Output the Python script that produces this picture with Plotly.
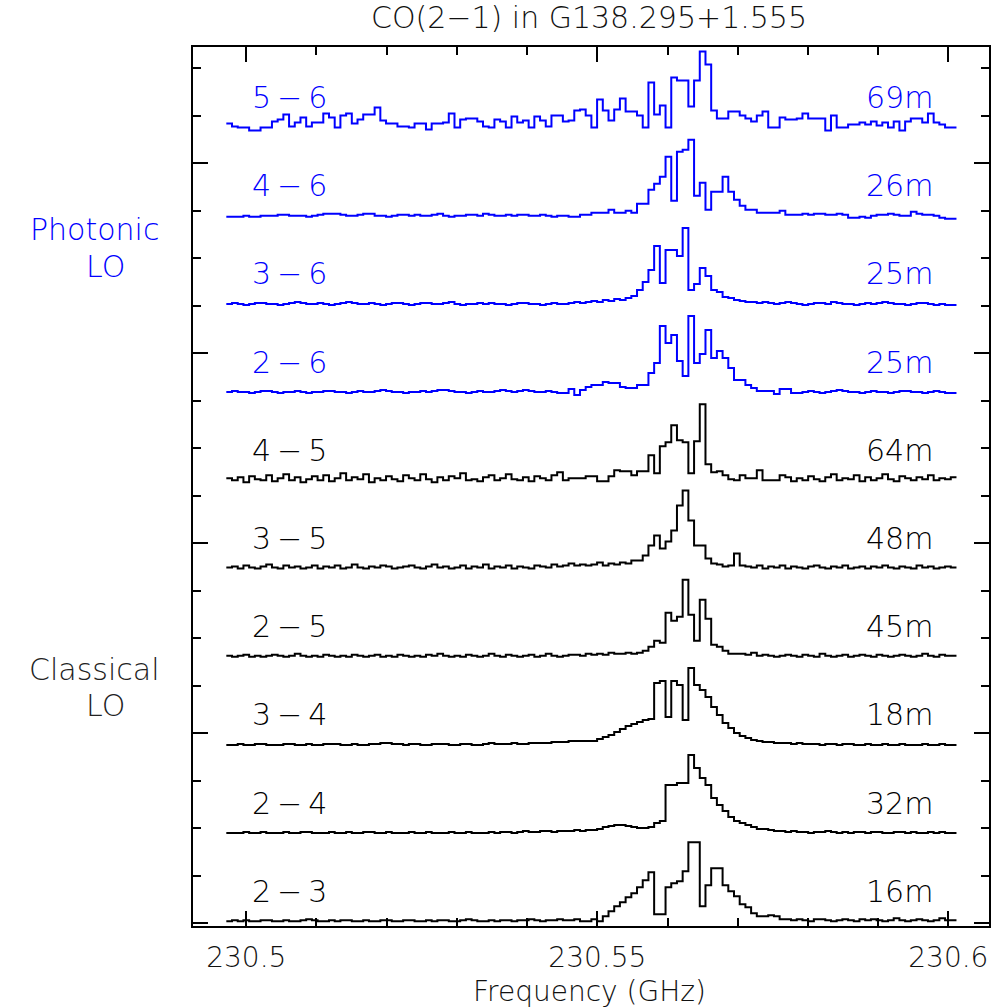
import numpy as np
import plotly.graph_objects as go

# ---------------- data ----------------
freq_start = 230.497156   # GHz, lower edge of first channel
chan_width = 0.0008125    # GHz (0.8125 MHz channels, 128 channels)

baselines = ["2-3", "2-4", "3-4", "2-5", "3-5", "4-5", "2-6", "3-6", "4-6", "5-6"]
noise_levels = ["16m", "32m", "18m", "45m", "48m", "64m", "25m", "25m", "26m", "69m"]
lo_type = ["Classical"] * 6 + ["Photonic"] * 4

spec_2_3 = [0,1,0,1,0,0,1,1,0,0,1,0,0,1,2,1,
            0,0,1,0,1,1,0,0,1,0,0,1,1,0,0,1,
            1,0,0,1,0,1,1,0,0,1,2,1,0,0,1,0,
            1,1,0,1,1,2,1,0,1,1,2,1,1,2,0,0,
            2,0,5,10,15,19,24,28,34,41,49,7,7,34,38,40,
            50,79,79,15,36,53,53,36,30,25,17,14,8,5,5,6,
            5,2,2,1,2,1,0,2,2,1,0,1,2,1,0,2,
            1,2,1,0,1,3,1,0,1,2,1,0,1,3,1,1]
spec_2_4 = [0,0,0,1,0,0,1,0,0,0,1,0,0,1,1,0,
            0,0,1,0,0,1,0,0,1,1,0,0,1,0,0,0,
            1,0,0,1,0,0,0,1,0,0,1,0,0,0,1,0,
            1,1,0,1,2,1,1,2,2,1,2,2,2,3,2,3,
            3,4,6,7,8,8,7,6,5,5,6,10,12,48,48,50,
            50,78,65,55,48,35,28,22,16,12,10,8,6,4,4,3,
            2,2,1,2,1,1,0,1,1,2,1,0,1,0,1,1,
            0,1,1,0,0,1,1,0,1,0,0,1,0,1,0,0]
spec_3_4 = [0,0,1,0,0,1,1,0,0,0,1,1,0,0,1,0,
            0,1,1,1,0,0,1,0,0,1,1,2,2,1,1,0,
            1,1,0,0,1,1,1,0,0,1,1,0,0,1,2,1,
            1,1,2,1,1,2,2,2,2,3,3,3,4,4,4,4,
            4,6,8,10,13,16,19,21,23,25,26,62,64,28,64,60,
            25,77,60,55,48,38,30,22,17,12,9,7,5,4,3,3,
            2,2,2,1,2,1,1,1,0,1,1,0,1,1,0,0,
            1,0,0,1,0,0,1,0,0,0,1,0,0,1,0,0]
spec_2_5 = [1,0,1,2,0,1,0,1,2,1,0,1,3,1,0,1,
            0,2,1,0,1,0,2,1,0,1,2,0,1,0,2,1,
            0,1,0,2,1,3,1,0,1,0,2,1,0,1,3,1,
            0,2,1,0,1,2,0,1,3,1,0,1,2,2,1,3,
            2,3,2,4,3,3,4,3,4,6,10,16,14,44,36,40,
            77,42,16,57,38,12,10,6,3,3,3,2,4,1,2,1,
            0,1,2,1,0,2,1,0,3,1,0,1,2,0,1,2,
            1,0,2,1,0,1,2,1,0,1,3,1,0,2,1,1]
spec_3_5 = [1,2,0,3,1,0,2,4,1,0,3,1,2,0,1,3,
            0,2,1,3,0,1,4,1,0,2,1,3,2,0,1,2,
            3,1,0,2,4,1,2,0,1,3,0,2,1,4,0,2,
            1,3,0,2,1,0,3,2,1,4,2,3,5,3,4,3,
            4,6,3,5,4,6,5,8,8,13,23,33,20,27,38,63,
            78,48,23,23,10,5,4,2,3,15,3,2,1,3,0,2,
            1,3,0,2,1,0,2,3,1,0,2,1,3,0,1,2,
            0,2,1,3,1,0,2,1,0,3,1,2,0,1,2,1]
spec_4_5 = [2,0,3,-2,4,1,0,5,-1,2,6,0,3,-2,1,4,
            0,5,-1,2,7,0,3,1,6,-2,2,0,4,1,-1,5,
            2,0,6,1,-2,3,0,4,2,7,0,1,-1,3,5,0,
            2,6,1,0,3,-1,4,2,0,5,8,0,2,2,2,4,
            4,-1,-1,4,10,9,9,5,9,9,25,7,34,38,55,40,
            38,7,39,76,16,8,9,5,1,0,5,2,2,10,0,0,
            0,5,3,-1,2,0,4,1,-1,3,6,0,2,1,5,-1,
            3,0,2,6,1,-1,4,2,0,3,1,5,0,2,1,3]
spec_2_6 = [0,1,0,0,-1,0,1,1,0,-1,0,0,1,0,-1,0,
            0,1,1,0,0,-1,0,1,0,0,1,2,1,0,0,-1,
            0,0,1,0,1,2,2,1,0,0,-1,0,1,0,0,1,
            2,1,0,1,2,1,0,0,1,0,-1,-1,3,-3,2,5,
            7,7,10,9,9,5,4,4,7,7,19,29,66,49,57,31,
            16,76,29,38,62,34,41,34,24,12,12,7,4,1,1,1,
            -2,3,3,-1,-1,0,1,0,-1,0,1,2,1,0,0,-1,
            0,1,0,0,-1,0,1,1,0,0,-1,0,1,0,-1,-1]
spec_3_6 = [0,1,0,-1,0,1,1,0,0,-1,0,1,2,1,0,0,
            1,0,-1,0,1,2,1,0,0,1,0,-1,0,1,1,0,
            -1,0,1,1,0,0,1,2,0,-1,0,0,1,0,1,0,
            0,-1,0,1,1,0,0,-1,0,1,0,0,1,2,1,2,
            3,2,4,3,5,4,6,8,14,22,34,58,21,54,54,48,
            76,14,20,36,28,14,12,7,6,4,3,2,2,1,2,1,
            0,1,2,1,0,-1,0,1,1,0,2,1,0,0,-1,0,
            1,0,1,2,1,0,0,-1,0,1,1,0,-1,0,-1,-1]
spec_4_6 = [-1,-1,-1,0,-1,-1,0,0,0,1,1,0,0,0,-1,0,
            1,2,2,2,1,0,0,1,2,2,0,0,-1,0,1,1,
            0,1,0,0,1,2,0,-1,0,0,1,1,0,2,1,0,
            0,1,0,1,1,0,0,1,0,-1,0,0,-1,-1,1,1,
            3,3,3,6,3,3,5,3,12,12,26,32,39,59,15,64,
            66,76,20,33,6,24,24,39,24,16,10,6,6,3,3,3,
            3,5,1,1,1,2,1,2,2,1,1,2,1,-2,-2,-1,
            -2,0,1,1,2,1,0,0,4,2,1,1,0,-2,-3,-3]
spec_5_6 = [4,1,0,0,-3,-3,0,0,6,8,13,1,5,10,1,5,
            5,14,10,0,12,14,4,8,13,13,20,7,4,4,1,1,
            0,4,4,-2,4,4,5,14,0,8,9,9,6,1,0,8,
            6,0,11,5,7,0,11,7,1,12,12,6,7,17,18,12,
            0,28,17,7,18,29,16,16,12,0,45,13,22,0,50,47,
            47,21,47,76,63,17,9,9,16,16,12,9,6,12,16,0,
            0,10,8,8,9,14,9,9,9,-3,12,0,0,3,3,5,
            3,6,2,5,0,6,-3,6,9,9,5,14,5,3,0,0]

spectra = [spec_2_3, spec_2_4, spec_3_4, spec_2_5, spec_3_5,
           spec_4_5, spec_2_6, spec_3_6, spec_4_6, spec_5_6]
offsets = [2.0, 90.2, 178.4, 266.6, 354.8, 443.0, 531.2, 619.4, 707.6, 795.8]

x_tickvals = [230.5, 230.55, 230.6]
x_ticktext = ["230.5", "230.55", "230.6"]

# ---------------- figure ----------------
FONT = "DejaVu Sans"
colors = {"Classical": "#000000", "Photonic": "#0000ff"}

n_chan = len(spec_2_3)
edges = freq_start + chan_width * np.arange(n_chan + 1)

fig = go.Figure()
for name, spec, off, lo in zip(baselines, spectra, offsets, lo_type):
    y = np.array(spec, dtype=float) + off
    fig.add_trace(go.Scatter(
        x=edges, y=np.append(y, y[-1]), mode="lines",
        line=dict(shape="hv", color=colors[lo], width=2),
        name=name, showlegend=False, hoverinfo="skip"))

x_left = 230.5005
x_right = 230.5981
for name, noise, off, lo in zip(baselines, noise_levels, offsets, lo_type):
    c = colors[lo]
    fig.add_annotation(x=x_left, y=off + 30, xref="x", yref="y",
                       text=name.replace("-", "\u2009\u2212\u2009"),
                       showarrow=False, xanchor="left", yanchor="middle",
                       font=dict(family=FONT, size=30, color=c, weight=200))
    fig.add_annotation(x=x_right, y=off + 30, xref="x", yref="y", text=noise,
                       showarrow=False, xanchor="right", yanchor="middle",
                       font=dict(family=FONT, size=30, color=c, weight=200))

side = [("Photonic", -0.124, 694.3, "#0000ff"), ("LO", -0.110, 657.3, "#0000ff"),
        ("Classical", -0.124, 254.3, "#222222"), ("LO", -0.110, 217.8, "#222222")]
for txt, px, py, c in side:
    fig.add_annotation(x=px, y=py, xref="paper", yref="y", text=txt, showarrow=False,
                       xanchor="center", yanchor="middle",
                       font=dict(family=FONT, size=30, color=c, weight=200))

fig.add_annotation(x=0.4975, y=1.033, xref="paper", yref="paper",
                   text="CO(2\u22121) in G138.295+1.555", showarrow=False,
                   xanchor="center", yanchor="middle",
                   font=dict(family=FONT, size=30, color="#111111", weight=200))
fig.add_annotation(x=0.4975, y=-0.0740, xref="paper", yref="paper",
                   text="Frequency (GHz)", showarrow=False,
                   xanchor="center", yanchor="middle",
                   font=dict(family=FONT, size=28, color="#111111", weight=200))

fig.update_xaxes(range=[230.49241, 230.60579], showline=True, linecolor="black", linewidth=2,
                 mirror="ticks", ticks="inside", ticklen=15, tickwidth=2, tickcolor="black",
                 tickmode="array", tickvals=x_tickvals, ticktext=x_ticktext,
                 tickfont=dict(family=FONT, size=28, color="#111111", weight=200),
                 ticklabelstandoff=5, ticklabeloverflow="allow",
                 minor=dict(ticks="inside", dtick=0.01, tick0=230.5, ticklen=8,
                            tickwidth=2, tickcolor="black", showgrid=False),
                 showgrid=False, zeroline=False)
fig.update_yaxes(range=[-2.7, 876.3], showline=True, linecolor="black", linewidth=2,
                 mirror="ticks", ticks="inside", ticklen=15, tickwidth=2, tickcolor="black",
                 tickmode="linear", tick0=0, dtick=190, showticklabels=False,
                 minor=dict(ticks="inside", dtick=47.5, tick0=0, ticklen=8,
                            tickwidth=2, tickcolor="black", showgrid=False),
                 showgrid=False, zeroline=False)

fig.update_layout(width=998, height=1008, margin=dict(l=193, r=7, t=47, b=82),
                  paper_bgcolor="white", plot_bgcolor="white", showlegend=False)

fig.write_html("out.html")
